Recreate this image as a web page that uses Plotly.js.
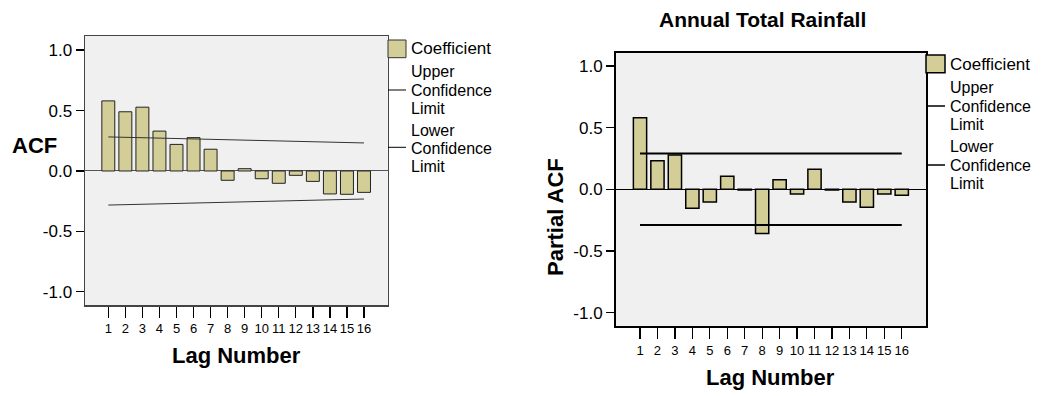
<!DOCTYPE html>
<html>
<head>
<meta charset="utf-8">
<script src="https://cdn.plot.ly/plotly-3.0.1.min.js"></script>
<style>html,body{margin:0;padding:0;background:#fff;}#chart{width:1045px;height:396px;}</style>
</head>
<body>
<div id="chart"></div>
<script>
// ---- data ----
const lags = [1,2,3,4,5,6,7,8,9,10,11,12,13,14,15,16];
const acfValues = [0.58,0.49,0.528,0.33,0.22,0.276,0.18,-0.077,0.019,-0.064,-0.102,-0.036,-0.086,-0.19,-0.193,-0.177];
const acfConfLags = [1,16];
const acfUpper = [0.282,0.232];
const acfLower = [-0.282,-0.232];
const pacfValues = [0.581,0.232,0.278,-0.154,-0.103,0.105,-0.005,-0.359,0.078,-0.038,0.162,-0.005,-0.103,-0.146,-0.038,-0.049];
const pacfConfLags = [1,16];
const pacfUpper = [0.29,0.29];
const pacfLower = [-0.29,-0.29];
const yTicks = [-1.0,-0.5,0.0,0.5,1.0];
const yTickText = ["-1.0","-0.5","0.0","0.5","1.0"];
const chartTitle = "Annual Total Rainfall";
const xTitle = "Lag Number";
const leftYTitle = "ACF";
const rightYTitle = "Partial ACF";
const legendItems = ["Coefficient", ["Upper","Confidence","Limit"], ["Lower","Confidence","Limit"]];

// ---- styles ----
const W = 1045, H = 396;
const FONT = "Liberation Sans, Arial, sans-serif";
const barColor = "#d3ce97";
const px = x => x / W;
const py = y => 1 - y / H;

const traces = [
  {type:"bar", x:lags, y:acfValues, width:0.76, xaxis:"x", yaxis:"y",
   marker:{color:barColor, line:{color:"#222", width:1}}},
  {type:"scatter", mode:"lines", x:acfConfLags, y:acfUpper, xaxis:"x", yaxis:"y",
   line:{color:"#333", width:1}},
  {type:"scatter", mode:"lines", x:acfConfLags, y:acfLower, xaxis:"x", yaxis:"y",
   line:{color:"#333", width:1}},
  {type:"bar", x:lags, y:pacfValues, width:0.76, xaxis:"x2", yaxis:"y2",
   marker:{color:barColor, line:{color:"#000", width:1.5}}},
  {type:"scatter", mode:"lines", x:pacfConfLags, y:pacfUpper, xaxis:"x2", yaxis:"y2",
   line:{color:"#000", width:2}},
  {type:"scatter", mode:"lines", x:pacfConfLags, y:pacfLower, xaxis:"x2", yaxis:"y2",
   line:{color:"#000", width:2}}
];

function xAxis(domain, range, lc, lw, anchor){
  return {domain:domain, range:range, anchor:anchor, tickvals:lags, ticks:"outside", ticklen:11,
    tickwidth:1.3, tickcolor:"#000", tickfont:{family:FONT, size:13, color:"#000"},
    showgrid:false, zeroline:false, showline:true, mirror:true, linecolor:lc, linewidth:lw, fixedrange:true};
}
function yAxis(domain, range, lc, lw, anchor, zc, zw){
  return {domain:domain, range:range, anchor:anchor, tickvals:yTicks, ticktext:yTickText, ticks:"outside", ticklen:8,
    tickwidth:1.3, tickcolor:"#000", tickfont:{family:FONT, size:17, color:"#000"},
    showgrid:false, zeroline:true, zerolinecolor:zc, zerolinewidth:zw, showline:true, mirror:true,
    linecolor:lc, linewidth:lw, fixedrange:true};
}

const annotations = [];
const shapes = [];
function txt(x, y, t, size, bold, opts){
  annotations.push(Object.assign({xref:"paper", yref:"paper", x:px(x), y:py(y), text: bold ? "<b>"+t+"</b>" : t,
    showarrow:false, font:{family:FONT, size:size, color:"#000"}, xanchor:"center", yanchor:"middle", borderpad:0}, opts||{}));
}
// titles
txt(762, 20, chartTitle, 21, true);
txt(236, 355, xTitle, 22, true);
txt(770, 377, xTitle, 22, true);
txt(34, 145, leftYTitle, 22, true);
txt(555, 217, rightYTitle, 22, true, {textangle:-90});

// legends
function legend(x0, x1, txtX, sw, cY, uLineY, uY, lLineY, lY, lc, lw, fs){
  shapes.push({type:"rect", xref:"paper", yref:"paper", x0:px(x0), x1:px(x1), y0:py(sw[0]), y1:py(sw[1]),
    fillcolor:barColor, line:{color:lc, width:lw}});
  shapes.push({type:"line", xref:"paper", yref:"paper", x0:px(x0), x1:px(x1), y0:py(uLineY), y1:py(uLineY), line:{color:"#000", width:lw}});
  shapes.push({type:"line", xref:"paper", yref:"paper", x0:px(x0), x1:px(x1), y0:py(lLineY), y1:py(lLineY), line:{color:"#000", width:lw}});
  txt(txtX, cY, legendItems[0], 17, false, {xanchor:"left"});
  legendItems[1].forEach((s,i)=>txt(txtX, uY[i], s, fs, false, {xanchor:"left"}));
  legendItems[2].forEach((s,i)=>txt(txtX, lY[i], s, fs, false, {xanchor:"left"}));
}
legend(388, 406, 410, [40,57.7], 49, 90, [71.8,90,108.2], 147.3, [130.1,148.3,166.5], "#333", 1, 16);
legend(926, 945, 949, [55,72.7], 64, 106, [87.8,106,124.2], 165, [146.8,165,183.2], "#000", 1.5, 16);

const layout = {
  width:W, height:H, margin:{l:0,r:0,t:0,b:0}, paper_bgcolor:"#fff", plot_bgcolor:"#f0f0f0",
  showlegend:false, bargap:0, hovermode:false,
  xaxis: xAxis([px(85), px(387.7)], [-0.367, 17.39], "#444", 1.5, "y"),
  yaxis: yAxis([py(305), py(36)], [-1.109, 1.117], "#444", 1.5, "x", "#555", 1),
  xaxis2: xAxis([px(616), px(926)], [-0.376, 17.39], "#000", 2, "y2"),
  yaxis2: yAxis([py(326), py(52.7)], [-1.109, 1.108], "#000", 2, "x2", "#000", 1.5),
  annotations: annotations, shapes: shapes, font:{family:FONT}
};
Plotly.newPlot("chart", traces, layout, {displayModeBar:false, staticPlot:true});
</script>
</body>
</html>
